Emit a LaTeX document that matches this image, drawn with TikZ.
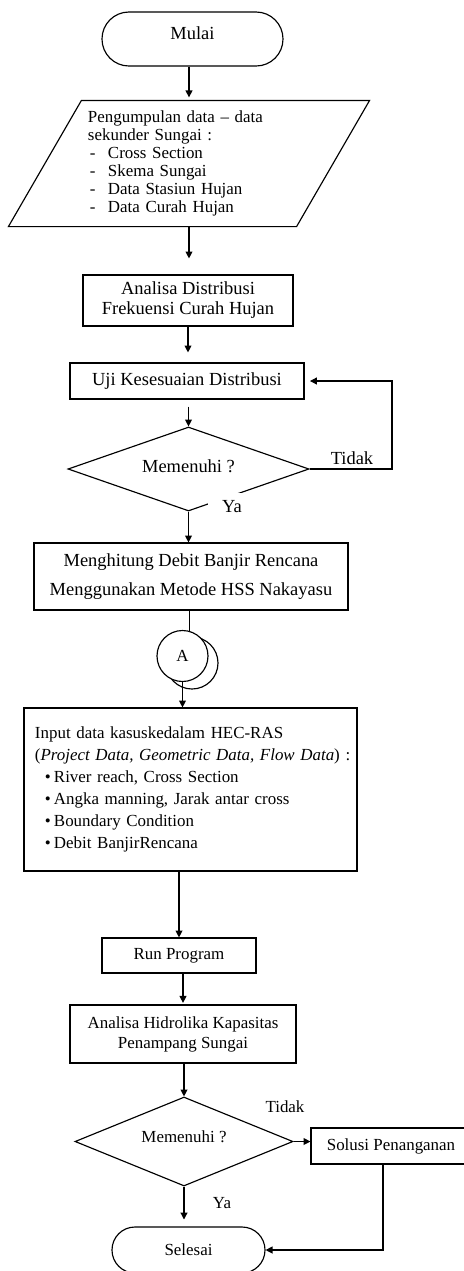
\documentclass[tikz,border=0pt]{standalone}
\usepackage{fontspec}
\setmainfont{Liberation Serif}
\usetikzlibrary{shapes.geometric,arrows.meta}
\tikzset{
	big/.style={font=\fontsize{12}{13}\selectfont},
	small/.style={font=\fontsize{11}{13}\selectfont},
	box/.style={draw, rectangle, align=center, inner sep=0pt},
	terminal/.style={draw, rectangle, inner sep=0pt},
	decision/.style={draw, diamond, inner sep=0pt},
	dataio/.style={rectangle, inner sep=0pt, align=left},
	connector/.style={draw, circle, inner sep=0pt, minimum size=33.15pt}
}
\begin{document}
\begin{tikzpicture}[x=0.65pt, y=-0.65pt, line width=0.75pt, >={Triangle[length=4.5pt,width=4.5pt]}]
	\useasboundingbox (0,0) rectangle (464,1271);
	\node [terminal, big, rounded corners=17.5pt, minimum width=117.65pt, minimum height=35.1pt, text depth=7.8pt] (mulai) at (192.5,39) {Mulai};
	\node [dataio, font=\fontsize{11}{11.7}\selectfont, minimum width=234pt, minimum height=81.25pt, text width=131.3pt] (data) at (189,163.5) {Pengumpulan data -- data\\
		sekunder Sungai :\\
		\hspace*{1.3pt}\makebox[11.7pt][l]{-}Cross Section\\
		\hspace*{1.3pt}\makebox[11.7pt][l]{-}Skema Sungai\\
		\hspace*{1.3pt}\makebox[11.7pt][l]{-}Data Stasiun Hujan\\
		\hspace*{1.3pt}\makebox[11.7pt][l]{-}Data Curah Hujan};
	\draw ([xshift=47.45pt]data.north west) -- (data.north east) -- ([xshift=-47.45pt]data.south east) -- (data.south west) -- cycle;
	\node [box, big, minimum width=136.5pt, minimum height=33.15pt] (dist) at (188,300.5) {Analisa Distribusi\\Frekuensi Curah Hujan};
	\node [box, big, minimum width=152.1pt, minimum height=23.4pt] (uji) at (187,381) {Uji Kesesuaian Distribusi};
	\node [decision, big, aspect=2.87, minimum width=156.65pt, minimum height=54.6pt, text depth=4pt] (d1) at (188.5,469) {Memenuhi ?};
	\node [big, inner sep=0pt] (tidak1) at (352,458) {Tidak};
	\node [big, fill=white, inner xsep=9pt, inner ysep=5pt] (ya1) at (232,507) {Ya};
	\node [box, font=\fontsize{12}{18.85}\selectfont, minimum width=204.1pt, minimum height=43.55pt] (hitung) at (191,576.5) {Menghitung Debit Banjir Rencana\\Menggunakan Metode HSS Nakayasu};
	\node [connector, minimum size=33.8pt] (A2) at (192,663) {};
	\node [connector, small, fill=white] (A) at (182.5,656) {A};
	\node [box, font=\fontsize{11}{14.3}\selectfont, align=left, text width=202.15pt, minimum width=216.45pt, minimum height=105.95pt] (input) at (190.5,789.5) {Input data kasuskedalam HEC-RAS\\
		\mbox{(\textit{Project Data, Geometric Data, Flow Data}) :}\\
		\hspace*{6.5pt}\makebox[5.85pt][l]{\textbullet}River reach, Cross Section\\
		\hspace*{6.5pt}\makebox[5.85pt][l]{\textbullet}Angka manning, Jarak antar cross\\
		\hspace*{6.5pt}\makebox[5.85pt][l]{\textbullet}Boundary Condition\\
		\hspace*{6.5pt}\makebox[5.85pt][l]{\textbullet}Debit BanjirRencana};
	\node [box, small, minimum width=100.1pt, minimum height=22.75pt] (run) at (179,955.5) {Run Program};
	\node [box, small, minimum width=146.9pt, minimum height=37.7pt] (hidro) at (183,1034) {Analisa Hidrolika Kapasitas\\Penampang Sungai};
	\node [decision, small, aspect=2.45, minimum width=141.7pt, minimum height=57.85pt, text depth=5.8pt] (d2) at (184,1141.5) {Memenuhi ?};
	\node [small, inner sep=0pt] (tidak2) at (285,1107) {Tidak};
	\node [box, small, minimum width=104pt, minimum height=23.4pt] (solusi) at (391,1146) {Solusi Penanganan};
	\node [small, inner sep=0pt] (ya2) at (222,1203) {Ya};
	\node [terminal, small, rounded corners=14.9pt, minimum width=99.45pt, minimum height=29.9pt] (selesai) at (188.5,1250) {Selesai};
	\coordinate (back) at (392,469);
	\draw [->, shorten >=2pt] (mulai.south -| data.north) -- (data.north);
	\draw [->, shorten >=10.4pt] (data.south) -- (data.south |- dist.north);
	\draw [->, shorten >=6.5pt] (dist.south) -- (dist.south |- uji.north);
	\draw [->, shorten <=4.5pt] (d1.north |- uji.south) -- (d1.north);
	\draw [->] (d1.south) -- (d1.south |- hitung.north);
	\draw [->, shorten >=3.5pt] (d1.east) -- (back) |- (uji.east);
	\draw (A.75 |- hitung.south) -- (A.75);
	\draw [->] (A.south) -- (A.south |- input.north);
	\draw [->] (input.south -| run.north) -- (run.north);
	\draw [->, shorten >=1pt] (run.south -| hidro.north) -- (hidro.north);
	\draw [->] (d2.north |- hidro.south) -- (d2.north);
	\draw [->] (d2.east) -- (d2.east -| solusi.west);
	\draw [->, shorten >=4.5pt] (d2.south) -- (d2.south |- selesai.north);
	\draw [->] ([xshift=-5.2pt]solusi.south) |- (selesai.east);
\end{tikzpicture}
\end{document}
